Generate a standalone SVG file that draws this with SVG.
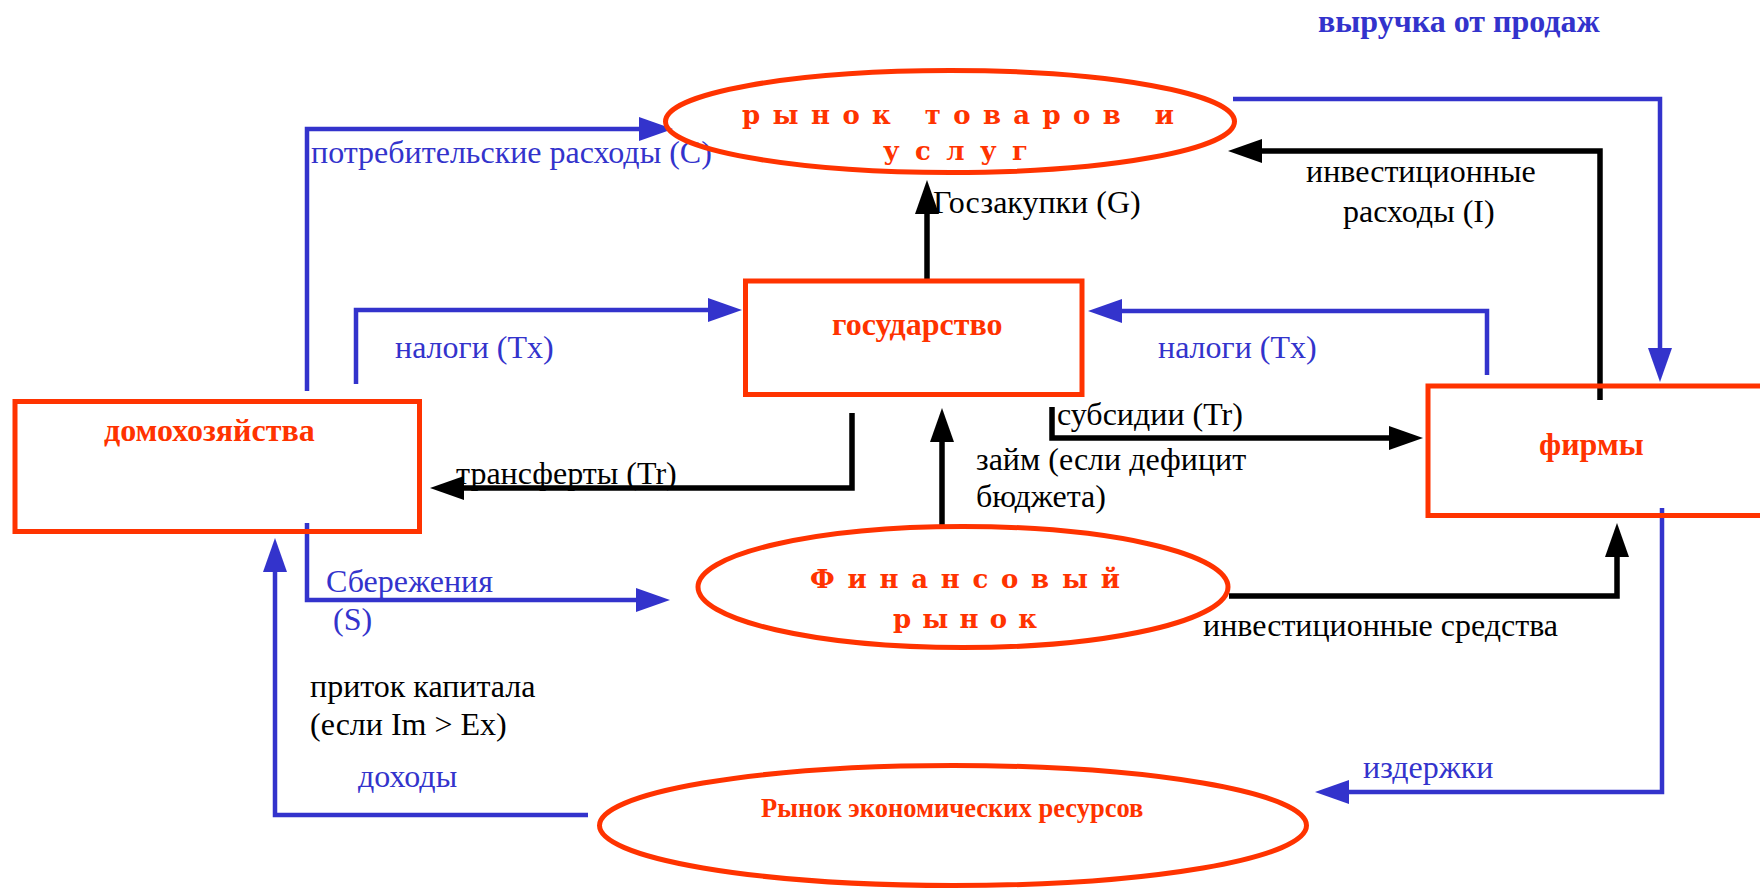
<svg xmlns="http://www.w3.org/2000/svg" width="1760" height="889" viewBox="0 0 1760 889">
<style>
.node{fill:none;stroke:#FF3300;stroke-width:5}
.bl{fill:none;stroke:#3333CC;stroke-width:4.5;stroke-linejoin:miter}
.bk{fill:none;stroke:#000;stroke-width:5.5;stroke-linejoin:miter}
.t{font-family:"Liberation Serif","Times New Roman",serif;font-size:32px}
.tb{fill:#3333CC}
.tk{fill:#000}
.tr{fill:#FF3300;font-weight:bold}
.sp{font-family:"DejaVu Serif","Liberation Serif",serif;font-size:26px;font-weight:bold;fill:#FF3300}
</style>
<defs>
<marker id="ab" markerUnits="userSpaceOnUse" viewBox="0 0 34 24" markerWidth="34" markerHeight="24" refX="0" refY="12" orient="auto"><path d="M0,0 L34,12 L0,24 z" fill="#3333CC"/></marker>
<marker id="ak" markerUnits="userSpaceOnUse" viewBox="0 0 34 24" markerWidth="34" markerHeight="24" refX="0" refY="12" orient="auto"><path d="M0,0 L34,12 L0,24 z" fill="#000"/></marker>
</defs>
<rect width="1760" height="889" fill="#fff"/>

<g id="connectors">
<path class="bl" d="M307,391 V129 H639" marker-end="url(#ab)"/>
<path class="bl" d="M356,384 V310 H708" marker-end="url(#ab)"/>
<path class="bk" d="M852,413 V488 H464" marker-end="url(#ak)"/>
<path class="bl" d="M307,523 V600 H636" marker-end="url(#ab)"/>
<path class="bl" d="M588,815 H275 V572" marker-end="url(#ab)"/>
<path class="bk" d="M927,279 V214" marker-end="url(#ak)"/>
<path class="bk" d="M942,527 V442" marker-end="url(#ak)"/>
<path class="bk" d="M1052,407 V438 H1389" marker-end="url(#ak)"/>
<path class="bl" d="M1487,375 V311 H1122" marker-end="url(#ab)"/>
<path class="bk" d="M1600,400 V151 H1262" marker-end="url(#ak)"/>
<path class="bl" d="M1233,99 H1660 V348" marker-end="url(#ab)"/>
<path class="bk" d="M1229,596 H1617 V557" marker-end="url(#ak)"/>
<path class="bl" d="M1662,508 V792 H1349" marker-end="url(#ab)"/>
<text class="t tb" x="1318" y="32" style="font-weight:bold">выручка от продаж</text>
<text class="t tb" x="311" y="163">потребительские расходы (C)</text>
<text class="t tk" x="933" y="213">Госзакупки (G)</text>
<text class="t tk" x="1306" y="182">инвестиционные</text>
<text class="t tk" x="1343" y="222">расходы (I)</text>
<text class="t tb" x="395" y="358">налоги (Tx)</text>
<text class="t tb" x="1158" y="358">налоги (Tx)</text>
<text class="t tk" x="1057" y="425">субсидии (Tr)</text>
<text class="t tk" x="456" y="484">трансферты (Tr)</text>
<text class="t tk" x="976" y="470">займ (если дефицит</text>
<text class="t tk" x="976" y="507">бюджета)</text>
<text class="t tb" x="326" y="592">Сбережения</text>
<text class="t tb" x="333" y="630">(S)</text>
<text class="t tk" x="1203" y="636">инвестиционные средства</text>
<text class="t tk" x="310" y="697">приток капитала</text>
<text class="t tk" x="310" y="735">(если Im &gt; Ex)</text>
<text class="t tb" x="358" y="787">доходы</text>
<text class="t tb" x="1363" y="778">издержки</text>
</g>

<g id="goods-market">
<ellipse class="node" cx="950" cy="121.5" rx="284.5" ry="51"/>
<text class="sp" x="742" y="124" textLength="432" lengthAdjust="spacing">рынок товаров и</text>
<text class="sp" x="883" y="160" textLength="145" lengthAdjust="spacing">услуг</text>
</g>

<g id="government">
<rect class="node" x="745.5" y="281" width="336.5" height="113.5"/>
<text class="t tr" x="832" y="335">государство</text>
</g>

<g id="households">
<rect class="node" x="15" y="401.5" width="404.5" height="130"/>
<text class="t tr" x="104" y="441">домохозяйства</text>
</g>

<g id="firms">
<rect class="node" x="1428" y="386" width="345" height="129.5"/>
<text class="t tr" x="1539" y="455">фирмы</text>
</g>

<g id="financial-market">
<ellipse class="node" cx="963" cy="587" rx="265" ry="60.5"/>
<text class="sp" x="810" y="588" textLength="310" lengthAdjust="spacing">Финансовый</text>
<text class="sp" x="893" y="628" textLength="144" lengthAdjust="spacing">рынок</text>
</g>

<g id="resource-market">
<ellipse class="node" cx="953" cy="825.5" rx="353.5" ry="60"/>
<text class="t tr" x="761" y="817" style="font-size:26.5px">Рынок экономических ресурсов</text>
</g>
</svg>
